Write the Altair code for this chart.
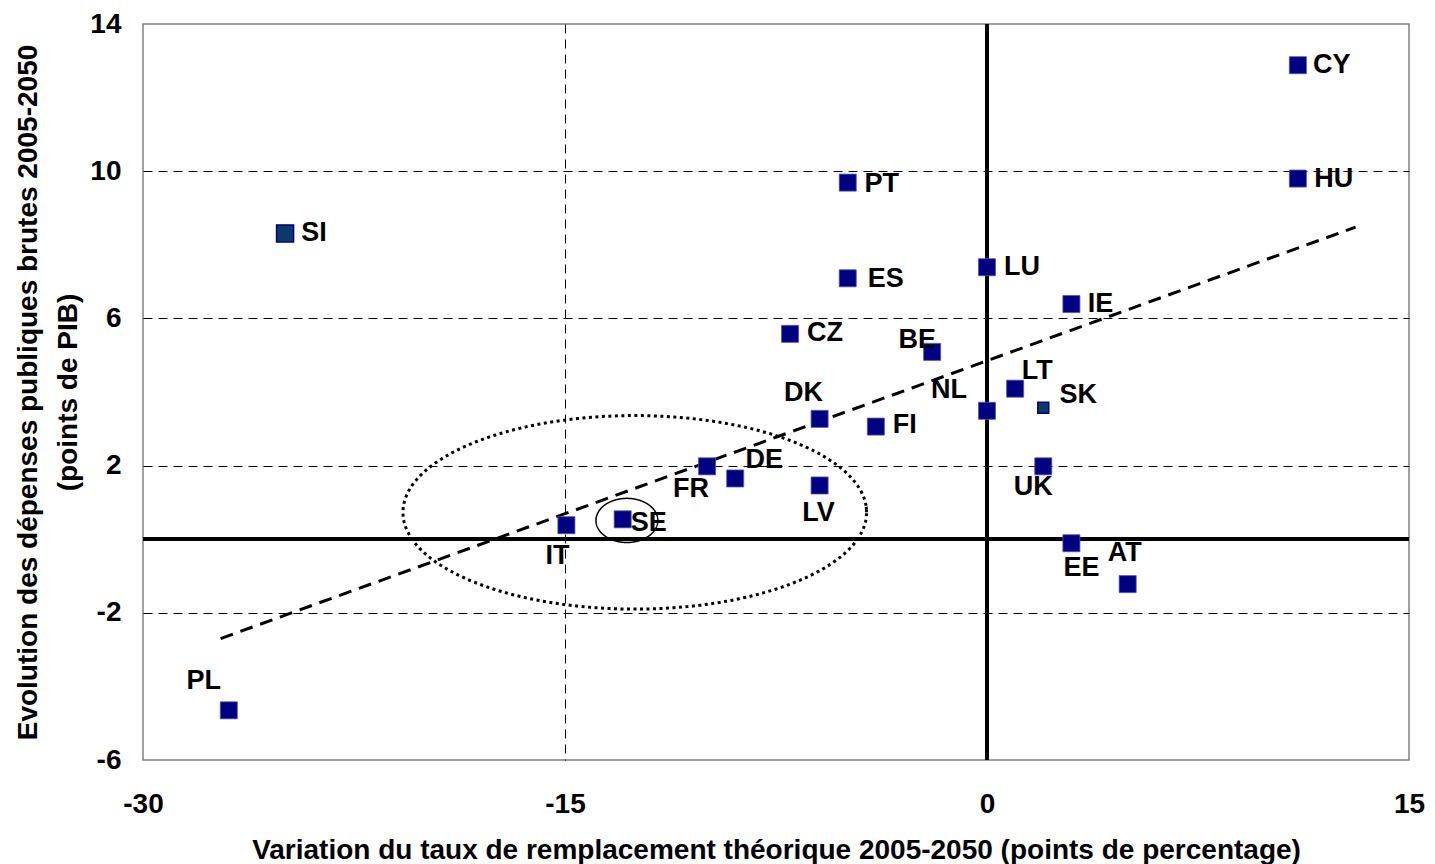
import altair as alt
import pandas as pd

# ---- data ----
countries = ["CY", "HU", "SI", "PT", "ES", "LU", "IE", "CZ", "BE", "LT", "NL", "SK",
             "DK", "FI", "FR", "DE", "LV", "UK", "IT", "SE", "EE", "AT", "PL"]
x_vals = [11.05, 11.05, -24.95, -4.95, -4.95, 0.0, 3.0, -7.0, -1.95, 1.0, 0.0, 2.0,
          -5.95, -3.95, -9.95, -8.95, -5.95, 2.0, -14.95, -12.95, 3.0, 5.0, -26.95]
y_vals = [12.88, 9.80, 8.31, 9.69, 7.09, 7.39, 6.39, 5.58, 5.09, 4.09, 3.49, 3.57,
          3.27, 3.06, 1.98, 1.65, 1.46, 1.98, 0.38, 0.54, -0.11, -1.22, -4.65]

trend_x = [-27.24, 13.10]
trend_y = [-2.70, 8.48]

x_ticks = [-30, -15, 0, 15]
y_ticks = [-6, -2, 2, 6, 10, 14]

x_title = "Variation du taux de remplacement théorique 2005-2050 (points de percentage)"
y_title = ["Evolution des dépenses publiques brutes 2005-2050", "(points de PIB)"]

# annotation ellipses (centre x, centre y, radius x, radius y) in data units
big_ellipse = (-12.52, 0.73, 8.24, 2.63)
small_ellipse = (-12.8, 0.51, 1.10, 0.60)

# ---- styling ----
FONT = "Liberation Sans"
label_offsets = {  # pixel offsets of each country label from its marker
    "CY": (34, 0), "HU": (36, 0), "SI": (29, 0), "PT": (34, 1), "ES": (38, 1),
    "LU": (35, 0), "IE": (29, 0), "CZ": (35, -1), "BE": (-15, -12), "LT": (22, -18),
    "NL": (-38, -21), "SK": (35, -13), "DK": (-16, -26), "FI": (29, -2),
    "FR": (-16, 23), "DE": (29, -18), "LV": (-1, 28), "UK": (-10, 21),
    "IT": (-9, 31), "SE": (26, 4), "EE": (10, 25), "AT": (-3, -31), "PL": (-25, -29),
}

df = pd.DataFrame({"pays": countries, "x": x_vals, "y": y_vals})
trend = pd.DataFrame({"x": trend_x, "y": trend_y})

xs = alt.Scale(domain=[-30, 15], nice=False, zero=False)
ys = alt.Scale(domain=[-6, 14], nice=False, zero=False)

grid_dash = [9, 6]

base = alt.Chart(df)

x_enc = alt.X("x:Q", scale=xs, title=x_title,
              axis=alt.Axis(values=x_ticks, ticks=False, domain=False, labelFlush=False,
                            labelExpr="'' + datum.value",
                            labelPadding=30, titlePadding=18,
                            grid=True, gridDash=grid_dash, gridColor="#000000", gridWidth=1,
                            gridOpacity={"condition": {"test": "datum.value == -15", "value": 1}, "value": 0}))
y_enc = alt.Y("y:Q", scale=ys, title=y_title,
              axis=alt.Axis(values=y_ticks, ticks=False, domain=False, labelFlush=False,
                            labelExpr="'' + datum.value",
                            labelPadding=22, titlePadding=7, titleLineHeight=40,
                            grid=True, gridDash=grid_dash, gridColor="#000000", gridWidth=1,
                            gridOpacity={"condition": {"test": "datum.value == -6 || datum.value == 14", "value": 0}, "value": 1}))

zero_x = alt.Chart(df).mark_rule(color="#000000", strokeWidth=3).encode(x=alt.datum(0, scale=xs))
zero_y = alt.Chart(df).mark_rule(color="#000000", strokeWidth=3).encode(y=alt.datum(0, scale=ys))

trend_line = alt.Chart(trend).mark_line(color="#000000", strokeWidth=3, strokeDash=[13, 8]).encode(
    x=alt.X("x:Q", scale=xs), y=alt.Y("y:Q", scale=ys))


def ellipse(params, dash, width):
    cx, cy, rx, ry = params
    return alt.Chart(alt.sequence(0, 6.40, 0.02, as_="t")).transform_calculate(
        ex=f"{cx} + {rx} * cos(datum.t)", ey=f"{cy} + {ry} * sin(datum.t)"
    ).mark_line(color="#000000", strokeWidth=width, strokeDash=dash, strokeCap="butt").encode(
        x=alt.X("ex:Q", scale=xs), y=alt.Y("ey:Q", scale=ys), order="t:Q")


big = ellipse(big_ellipse, [3, 3.5], 3)
small = ellipse(small_ellipse, [1, 0], 1.5)

normal_pts = base.transform_filter("datum.pays != 'SI' && datum.pays != 'SK'").mark_square(
    size=290, opacity=1, fill="#000080", stroke="#5555aa", strokeWidth=0.8).encode(x=x_enc, y=y_enc)
si_pt = base.transform_filter("datum.pays == 'SI'").mark_square(
    size=290, opacity=1, fill="#0b3a68", stroke="#000080", strokeWidth=1.5).encode(
    x=alt.X("x:Q", scale=xs), y=alt.Y("y:Q", scale=ys))
sk_pt = base.transform_filter("datum.pays == 'SK'").mark_square(
    size=120, opacity=1, fill="#0b3a68", stroke="#000080", strokeWidth=1.5).encode(
    x=alt.X("x:Q", scale=xs), y=alt.Y("y:Q", scale=ys))

labels = []
for c in countries:
    dx, dy = label_offsets[c]
    labels.append(base.transform_filter(f"datum.pays == '{c}'").mark_text(
        font=FONT, fontSize=27, fontWeight="bold", color="#000000", dx=dx, dy=dy,
        align="center", baseline="middle").encode(
        x=alt.X("x:Q", scale=xs), y=alt.Y("y:Q", scale=ys), text="pays:N"))

chart = alt.layer(zero_x, zero_y, trend_line, big, small, normal_pts, si_pt, sk_pt, *labels).properties(
    width=1266, height=736,
    padding={"left": 6, "top": 2, "right": 0, "bottom": 0},
).configure_view(
    stroke="#808080", strokeWidth=1.5
).configure_axis(
    labelFont=FONT, labelFontSize=28, labelFontWeight="bold", labelColor="#000000",
    titleFont=FONT, titleFontSize=28, titleFontWeight="bold", titleColor="#000000",
)

chart.save("out.html", embed_options={"renderer": "svg", "actions": False})
